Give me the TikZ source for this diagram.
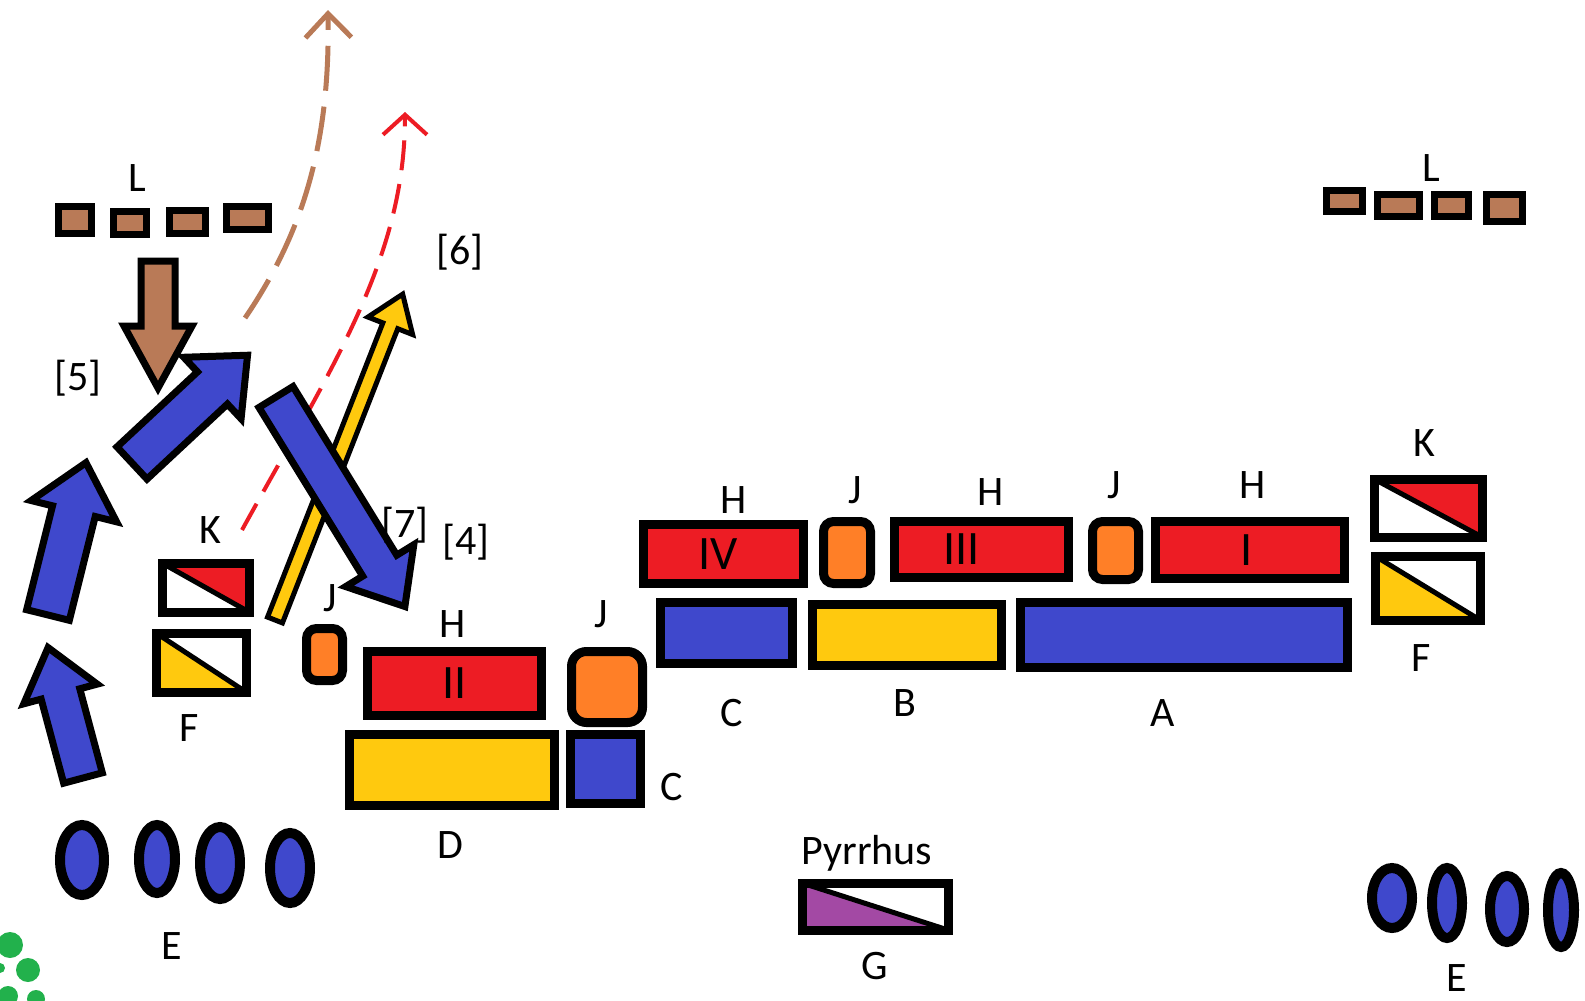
\documentclass[tikz,border=0pt]{standalone}
\usepackage{fontspec}
\setmainfont{Carlito}
\usetikzlibrary{arrows.meta}

\definecolor{armyblue}{HTML}{3F48CC}
\definecolor{armyred}{HTML}{ED1C24}
\definecolor{armyorange}{HTML}{FF7F27}
\definecolor{armyyellow}{HTML}{FFC90E}
\definecolor{armybrown}{HTML}{B97A57}
\definecolor{armypurple}{HTML}{A349A4}
\definecolor{armygreen}{HTML}{22B14C}

% tail x, tail y, angle, length, half shaft, half head, head length
\newcommand{\fatarrow}[8][bluearrow]{%
  \draw[#1, shift={(#2,#3)}, rotate=#4]
    (0,-#6) -- (#5-#8,-#6) -- (#5-#8,-#7) -- (#5,0)
    -- (#5-#8,#7) -- (#5-#8,#6) -- (0,#6) -- cycle;}

\begin{document}
\begin{tikzpicture}[x=1pt, y=-1pt,
    lbl/.style={inner sep=0pt, font=\fontsize{42}{42}\selectfont},
    unit/.style={draw, line width=9pt, inner sep=0pt, outer sep=0pt, font=\fontsize{48}{48}\selectfont},
    light/.style={unit, fill=armyorange, rounded corners=#1},
    scout/.style={draw, line width=7pt, fill=armybrown, inner sep=0pt, outer sep=0pt},
    flagup/.style={unit, path picture={
        \fill[#1] (path picture bounding box.north west) -- (path picture bounding box.north east)
          -- (path picture bounding box.south east) -- cycle;
        \draw[line width=5pt] (path picture bounding box.north west) -- (path picture bounding box.south east);}},
    flagdown/.style={unit, path picture={
        \fill[#1] (path picture bounding box.north west) -- (path picture bounding box.south west)
          -- (path picture bounding box.south east) -- cycle;
        \draw[line width=5pt] (path picture bounding box.north west) -- (path picture bounding box.south east);}},
    bluearrow/.style={draw, line width=7pt, line join=miter, fill=armyblue},
    brownarrow/.style={bluearrow, fill=armybrown},
    thinarrow/.style={draw, line width=5pt, line join=miter, fill=armyyellow},
    troop/.style={draw, line width=10pt, fill=armyblue}]

\fill[white] (0,0) rectangle (1585,1001);
\useasboundingbox (0,0) rectangle (1585,1001);

% routes
\coordinate (kstart) at (242,530);
\coordinate (redend) at (405,112);
\draw[armyred, line width=4pt, dash pattern=on 30pt off 14pt, -{Straight Barb[length=20pt,width=44pt]}]
  (kstart) .. controls (330,370) and (405,260) .. (redend);
\coordinate (lstart) at (245,318);
\coordinate (brownend) at (328,10);
\draw[armybrown, line width=5pt, dash pattern=on 45pt off 16pt, -{Straight Barb[length=24pt,width=46pt]}]
  (lstart) .. controls (305,230) and (330,140) .. (brownend);

% moves
\fatarrow[thinarrow]{275}{620}{68.6}{350}{8}{24}{34}
\fatarrow{83}{778}{105}{135}{20}{38}{48}
\fatarrow{48}{615}{76}{157}{22}{44}{50}
\fatarrow{132}{463}{43}{158}{22}{42}{48}
\fatarrow{276}{397}{-58.4}{246}{20}{40}{48}
\fatarrow[brownarrow]{158}{261}{-90}{127}{17}{34}{62}

% scouts
\node[scout, minimum width=33pt, minimum height=27pt] (l1) at (75,220) {};
\node[scout, minimum width=33pt, minimum height=23pt] (l2) at (130,223) {};
\node[scout, minimum width=36pt, minimum height=23pt] (l3) at (187.5,222) {};
\node[scout, minimum width=42pt, minimum height=23pt] (l4) at (247.5,218) {};
\node[lbl] (ll) at (137,178) {L};
\node[scout, minimum width=36pt, minimum height=21pt] (r1) at (1344.5,201) {};
\node[scout, minimum width=42pt, minimum height=22pt] (r2) at (1398.5,205.5) {};
\node[scout, minimum width=34pt, minimum height=22pt] (r3) at (1451.5,205.5) {};
\node[scout, minimum width=36pt, minimum height=27pt] (r4) at (1504.5,208) {};
\node[lbl] (lr) at (1431,168) {L};

% front line
\node[unit, fill=armyred, minimum width=160pt, minimum height=59pt] (h4) at (723.5,554) {\hspace*{-10pt}IV};
\node[light=10pt, minimum width=47pt, minimum height=62pt] (j1) at (847,552.5) {};
\node[unit, fill=armyred, minimum width=174pt, minimum height=56pt] (h3) at (981.5,549.5) {\hspace*{-40pt}III};
\node[light=10pt, minimum width=46pt, minimum height=58pt] (j2) at (1115.5,550.5) {};
\node[unit, fill=armyred, minimum width=189pt, minimum height=57pt] (h1) at (1250,550) {\hspace*{-6pt}I};
\node[unit, fill=armyblue, minimum width=132pt, minimum height=61pt] (c1) at (726.5,633) {};
\node[unit, fill=armyyellow, minimum width=189pt, minimum height=61pt] (b) at (907,635) {};
\node[unit, fill=armyblue, minimum width=327pt, minimum height=65pt] (a) at (1184,635) {};
\node[lbl] (th4) at (734,500) {H};
\node[lbl] (tj1) at (855,490) {J};
\node[lbl] (th3) at (991,492) {H};
\node[lbl] (tj2) at (1114,485) {J};
\node[lbl] (th1) at (1253,485) {H};
\node[lbl] (tc1) at (732,713) {C};
\node[lbl] (tb) at (905,703) {B};
\node[lbl] (ta) at (1163,713) {A};

% left wing
\node[unit, fill=armyred, minimum width=174pt, minimum height=64pt] (h2) at (454.5,683.5) {II};
\node[light=15pt, minimum width=71pt, minimum height=71pt] (j3) at (607,687) {};
\node[unit, fill=armyyellow, minimum width=205pt, minimum height=71pt] (d) at (452,770) {};
\node[unit, fill=armyblue, minimum width=70pt, minimum height=69pt] (c2) at (605.5,769) {};
\node[light=10pt, minimum width=36pt, minimum height=52pt] (j4) at (324.5,654.5) {};
\node[lbl] (th2) at (453,624) {H};
\node[lbl] (tj3) at (601,614) {J};
\node[lbl] (tc2) at (672,787) {C};
\node[lbl] (td) at (450,845) {D};
\node[lbl] (tj4) at (330,598) {J};

% cavalry flags
\node[flagup=armyred, minimum width=87pt, minimum height=49pt] (kl) at (205.5,587.5) {};
\node[flagdown=armyyellow, minimum width=90pt, minimum height=59pt] (fl) at (201,662.5) {};
\node[flagup=armyred, minimum width=108pt, minimum height=58pt] (kr) at (1428,508) {};
\node[flagdown=armyyellow, minimum width=105pt, minimum height=64pt] (fr) at (1427.5,588) {};
\node[flagdown=armypurple, minimum width=146pt, minimum height=47pt] (g) at (875,906.5) {};
\node[lbl] (tkl) at (210,530) {K};
\node[lbl] (tfl) at (189,728) {F};
\node[lbl] (tkr) at (1424,443) {K};
\node[lbl] (tfr) at (1421,658) {F};
\node[lbl] (tp) at (867,853) {Pyrrhus};
\node[lbl] (tg) at (875,966) {G};

% elephants
\foreach \x/\y/\rx/\ry in {82/860/22/35, 157/859/18/34, 220/863/20/36, 290/868/20/35,
    1392/898/20/30, 1447/903/15/35, 1507/909/17/33, 1561/910/13/37}
  \draw[troop] (\x,\y) ellipse [x radius=\rx, y radius=\ry];
\node[lbl] (tel) at (172,946) {E};
\node[lbl] (ter) at (1457,978) {E};

% steps
\node[lbl] (s5) at (78,378) {[5]};
\node[lbl] (s6) at (460,252) {[6]};
\node[lbl] (s7) at (405,525) {[7]};
\node[lbl] (s4) at (466,542) {[4]};

% trees
\fill[armygreen] (10,945) circle [radius=13] (28,970) circle [radius=12]
  (8,996) circle [radius=10] (36,999) circle [radius=9] (0,968) circle [radius=5];
\end{tikzpicture}
\end{document}
